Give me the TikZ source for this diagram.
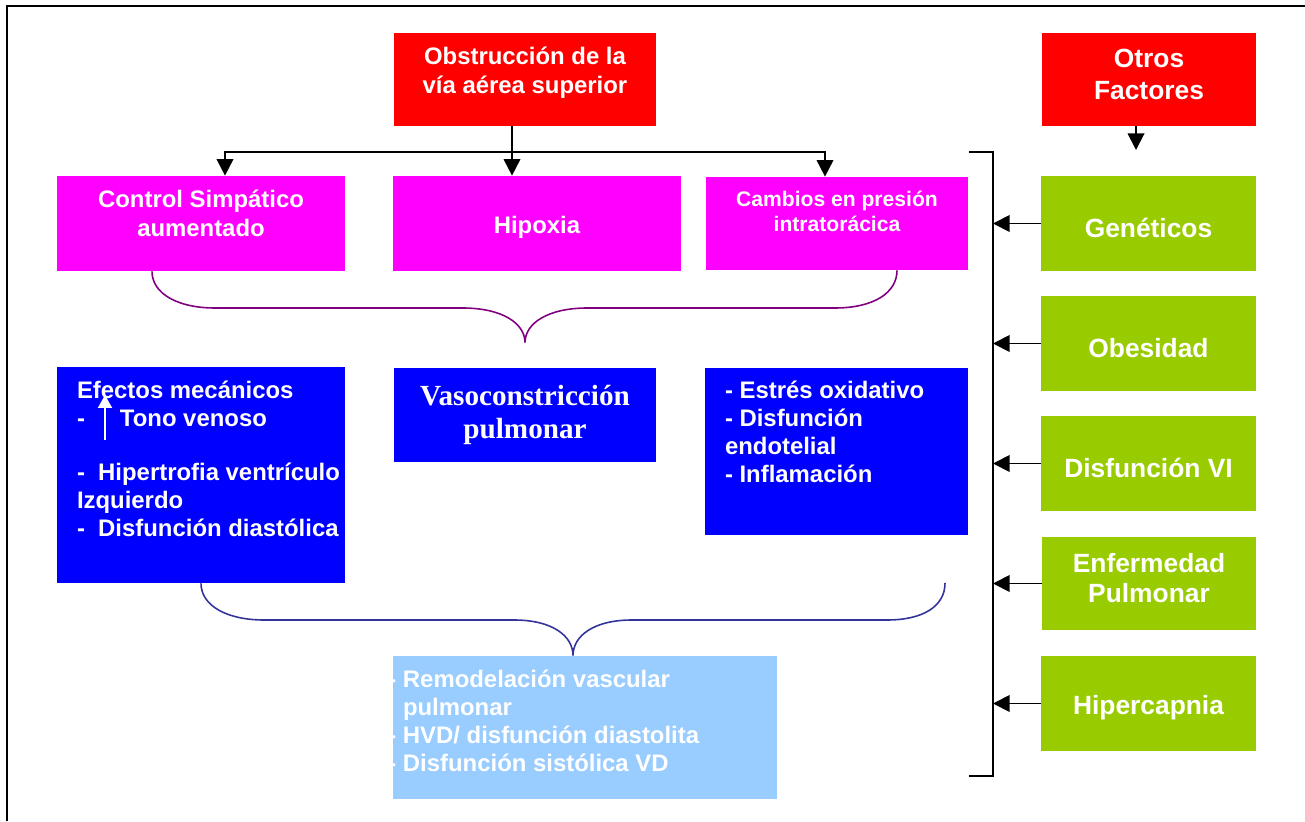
\documentclass[tikz,border=0pt]{standalone}
\usepackage{fontspec}
\setmainfont{Liberation Sans}
\newfontfamily\romana{Liberation Serif}
\usepackage{tikz}
\usetikzlibrary{arrows.meta, positioning}
\definecolor{causacolor}{RGB}{255, 0, 0}
\definecolor{mecanismocolor}{RGB}{255, 0, 255}
\definecolor{efectocolor}{RGB}{0, 0, 255}
\definecolor{remodcolor}{RGB}{153, 204, 255}
\definecolor{factorcolor}{RGB}{153, 204, 0}
\definecolor{llaveuno}{RGB}{128, 0, 128}
\definecolor{llavedos}{RGB}{51, 51, 153}
\newcommand{\bajar}[1]{\rule[-#1]{0pt}{#1}}
\newcommand{\alto}[1]{\rule{0pt}{#1}}
\tikzstyle{caja} = [rectangle, inner sep=0pt, align=center, text=white]
\tikzstyle{causa} = [caja, fill=causacolor, font=\bfseries\fontsize{13.6}{16.5}\selectfont]
\tikzstyle{otros} = [caja, fill=causacolor, font=\bfseries\fontsize{15}{18.2}\selectfont]
\tikzstyle{mecanismo} = [caja, fill=mecanismocolor, font=\bfseries\fontsize{13.6}{16.5}\selectfont]
\tikzstyle{efecto} = [caja, fill=efectocolor]
\tikzstyle{remodelado} = [caja, fill=remodcolor]
\tikzstyle{factor} = [caja, fill=factorcolor, font=\bfseries\fontsize{15}{17}\selectfont]
\tikzstyle{lista} = [inner sep=0pt, align=left, text=white, font=\bfseries\fontsize{13.6}{15.9}\selectfont]
\tikzstyle{arrow} = [line width=1.1pt, -{Triangle[length=0.33cm, width=0.33cm]}]
\tikzstyle{flechablanca} = [white, line width=1.1pt, -{Triangle[length=0.26cm, width=0.28cm]}]
\tikzstyle{linea} = [line width=1.1pt]
\tikzstyle{llave} = [line width=0.9pt]

\begin{document}
\begin{tikzpicture}
\useasboundingbox (0,0) rectangle (26.1,16.42);

% Marco
\draw [line width=1.2pt] (0.14,0) -- (0.14,16.30) -- (26.1,16.30);

% Fila 1 - Causas
\node (obst) [causa, minimum width=5.24cm, minimum height=1.86cm] at (10.50,14.83) {Obstrucción de la\\vía aérea superior\bajar{0.36cm}};
\node (otros) [otros, minimum width=4.28cm, minimum height=1.86cm] at (22.98,14.83) {Otros\\Factores\bajar{0.22cm}};

% Fila 2 - Mecanismos
\node (simp) [mecanismo, minimum width=5.76cm, minimum height=1.9cm] at (4.02,11.95) {Control Simpático\\aumentado\bajar{0.4cm}};
\node (hip) [mecanismo, minimum width=5.76cm, minimum height=1.9cm] at (10.74,11.95) {\alto{0.5cm}Hipoxia};
\node (camb) [mecanismo, minimum width=5.24cm, minimum height=1.86cm, font=\bfseries\fontsize{12}{14.2}\selectfont] at (16.74,11.95) {Cambios en presión\\intratorácica\bajar{0.5cm}};

% Fila 3 - Efectos
\node (efec) [efecto, minimum width=5.76cm, minimum height=4.32cm] at (4.02,6.92) {};
\node (efectxt) [lista, anchor=north west] at ([xshift=0.4cm, yshift=-0.28cm]efec.north west) {Efectos mecánicos\\-\hspace{0.7cm}Tono venoso\\[14.7pt]-~ Hipertrofia ventrículo\\Izquierdo\\-~ Disfunción diastólica};
\node (vaso) [efecto, minimum width=5.24cm, minimum height=1.88cm, font=\romana\bfseries\fontsize{16.6}{19.3}\selectfont] at (10.50,8.12) {Vasoconstricción\\pulmonar};
\node (estr) [efecto, minimum width=5.26cm, minimum height=3.34cm] at (16.73,7.39) {};
\node (estrtxt) [lista, anchor=north west] at ([xshift=0.4cm, yshift=-0.26cm]estr.north west) {- Estrés oxidativo\\- Disfunción\\endotelial\\- Inflamación};

% Fila 4 - Remodelado
\node (remod) [remodelado, minimum width=7.68cm, minimum height=2.86cm] at (11.70,1.87) {};
\node (remodtxt) [lista, anchor=north west] at ([xshift=0.2cm, yshift=-0.28cm]remod.north west) {\llap{- }Remodelación vascular\\pulmonar\\\llap{- }HVD/ disfunción diastolita\\\llap{- }Disfunción sistólica VD};

% Otros factores
\node (gen) [factor, minimum width=4.30cm, minimum height=1.9cm] at (22.97,11.95) {\alto{0.56cm}Genéticos};
\node (obes) [factor, minimum width=4.30cm, minimum height=1.9cm] at (22.97,9.55) {\alto{0.56cm}Obesidad};
\node (disf) [factor, minimum width=4.30cm, minimum height=1.9cm] at (22.97,7.15) {\alto{0.56cm}Disfunción VI};
\node (enf) [factor, minimum width=4.28cm, minimum height=1.86cm] at (22.98,4.75) {Enfermedad\\Pulmonar\bajar{0.22cm}};
\node (hiper) [factor, minimum width=4.30cm, minimum height=1.9cm] at (22.97,2.35) {\alto{0.54cm}Hipercapnia};

% Puntos auxiliares
\coordinate (cruce) at (10.24,13.38);
\coordinate (otrosfin) at (22.72,13.42);
\coordinate (corA) at (19.86,13.38);
\coordinate (corB) at (19.86,0.90);
\coordinate (subeA) at (2.10,7.62);
\coordinate (subeB) at (2.10,8.52);
\coordinate (b1i) at ([xshift=-0.98cm]simp.south);
\coordinate (b1d) at ([xshift=1.2cm]camb.south);
\coordinate (b1p) at ([yshift=0.5cm]vaso.north);
\coordinate (b2i) at (efec.south);
\coordinate (b2d) at (18.90,4.76);
\coordinate (b2p) at ([xshift=-0.24cm]remod.north);

% Flechas
\draw [linea] (obst.south -| cruce) -- (cruce);
\draw [arrow] (cruce) -| ([xshift=0.48cm]simp.north);
\draw [arrow] (cruce) -- (cruce |- hip.north);
\draw [arrow] (cruce) -| ([xshift=-0.24cm]camb.north);
\draw [arrow] (otrosfin |- otros.south) -- (otrosfin);
\draw [flechablanca] (subeA) -- (subeB);

% Corchete
\draw [linea] ([xshift=-0.48cm]corA) -- (corA) -- (corB) -- ([xshift=-0.48cm]corB);
\draw [arrow] (gen.west) -- (gen.west -| corA);
\draw [arrow] (obes.west) -- (obes.west -| corA);
\draw [arrow] (disf.west) -- (disf.west -| corA);
\draw [arrow] (enf.west) -- (enf.west -| corA);
\draw [arrow] (hiper.west) -- (hiper.west -| corA);

% Llaves
\draw [llave, llaveuno] (b1i) .. controls (3.04,10.55) and (3.55,10.26) .. (4.30,10.26) -- (9.25,10.26) .. controls (10.05,10.26) and (10.50,9.95) .. (b1p) .. controls (10.50,9.95) and (10.95,10.26) .. (11.75,10.26) -- (16.70,10.26) .. controls (17.45,10.26) and (17.94,10.55) .. (b1d);
\draw [llave, llavedos] (b2i) .. controls (4.02,4.30) and (4.55,4.02) .. (5.28,4.02) -- (10.28,4.02) .. controls (11.05,4.02) and (11.46,3.70) .. (b2p) .. controls (11.46,3.70) and (11.87,4.02) .. (12.64,4.02) -- (17.74,4.02) .. controls (18.47,4.02) and (18.90,4.30) .. (b2d);

\end{tikzpicture}
\end{document}
